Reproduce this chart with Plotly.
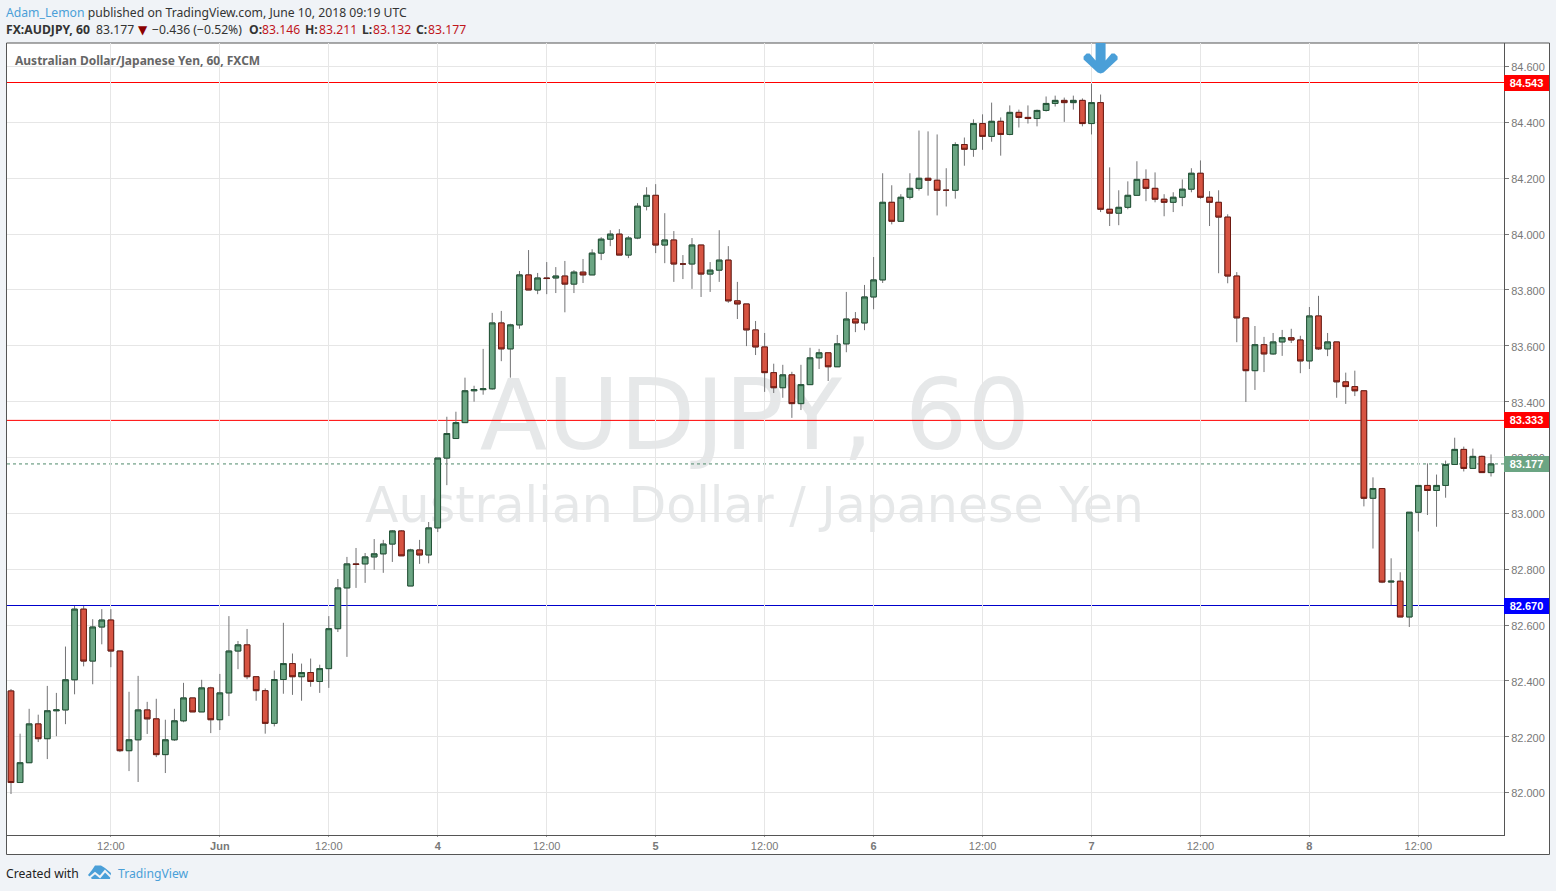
import plotly.graph_objects as go

OPEN = [82.364,82.036,82.107,82.246,82.193,82.293,82.296,82.404,82.657,82.471,82.593,82.618,82.507,82.150,82.189,82.296,82.264,82.136,82.189,82.257,
82.339,82.289,82.375,82.261,82.357,82.507,82.529,82.415,82.365,82.248,82.405,82.462,82.415,82.430,82.398,82.444,82.587,82.733,82.819,82.819,
82.844,82.855,82.890,82.937,82.740,82.869,82.851,82.948,83.198,83.268,83.325,83.439,83.443,83.446,83.682,83.589,83.675,83.854,83.800,83.843,
83.843,83.850,83.821,83.864,83.854,83.932,83.982,84.000,83.925,83.986,84.100,84.139,83.961,83.979,83.893,83.893,83.961,83.857,83.871,83.907,
83.761,83.750,83.657,83.596,83.504,83.450,83.496,83.393,83.461,83.557,83.575,83.525,83.607,83.696,83.682,83.775,83.836,84.114,84.046,84.132,
84.164,84.200,84.193,84.157,84.157,84.321,84.304,84.396,84.350,84.404,84.357,84.436,84.418,84.414,84.443,84.468,84.479,84.471,84.479,84.396,
84.471,84.089,84.075,84.096,84.139,84.196,84.164,84.125,84.114,84.132,84.161,84.218,84.132,84.114,84.061,83.850,83.700,83.511,83.604,83.571,
83.614,83.629,83.621,83.546,83.707,83.589,83.614,83.471,83.454,83.439,83.054,83.089,82.754,82.757,82.629,83.004,83.100,83.082,83.100,83.175,
83.229,83.161,83.204,83.146]
HIGH = [82.371,82.211,82.300,82.279,82.382,82.357,82.523,82.668,82.668,82.621,82.657,82.657,82.507,82.361,82.418,82.325,82.336,82.261,82.300,82.393,
82.339,82.404,82.379,82.425,82.632,82.543,82.586,82.415,82.373,82.437,82.608,82.498,82.462,82.480,82.458,82.632,82.765,82.844,82.876,82.858,
82.908,82.905,82.940,82.940,82.873,82.905,82.969,83.198,83.346,83.364,83.486,83.457,83.589,83.718,83.725,83.679,83.868,83.943,83.861,83.900,
83.882,83.904,83.871,83.911,83.946,83.989,84.014,84.018,83.993,84.111,84.168,84.179,84.075,84.011,83.925,83.986,83.961,83.900,84.014,83.957,
83.829,83.750,83.689,83.646,83.536,83.532,83.507,83.532,83.593,83.589,83.575,83.639,83.793,83.721,83.818,83.918,84.218,84.175,84.143,84.218,
84.371,84.368,84.357,84.236,84.329,84.346,84.411,84.429,84.471,84.418,84.461,84.446,84.461,84.446,84.493,84.496,84.489,84.496,84.486,84.539,
84.500,84.239,84.157,84.189,84.261,84.232,84.221,84.143,84.150,84.196,84.236,84.264,84.154,84.157,84.071,83.864,83.700,83.671,83.632,83.646,
83.657,83.661,83.636,83.739,83.779,83.646,83.614,83.504,83.511,83.439,83.129,83.089,82.839,82.789,83.004,83.100,83.179,83.139,83.189,83.271,
83.239,83.232,83.207,83.211]
LOW = [81.995,82.036,82.107,82.181,82.120,82.202,82.245,82.352,82.452,82.388,82.531,82.449,82.145,82.077,82.038,82.210,82.127,82.070,82.185,82.252,
82.289,82.289,82.213,82.224,82.274,82.442,82.406,82.329,82.211,82.237,82.354,82.350,82.329,82.379,82.357,82.375,82.575,82.486,82.733,82.751,
82.798,82.787,82.826,82.848,82.740,82.819,82.821,82.933,83.101,83.268,83.325,83.400,83.425,83.443,83.545,83.486,83.661,83.800,83.785,83.785,
83.789,83.720,83.789,83.825,83.854,83.907,83.957,83.925,83.914,83.982,84.085,83.932,83.896,83.829,83.839,83.804,83.775,83.793,83.829,83.754,
83.696,83.599,83.567,83.435,83.431,83.414,83.342,83.370,83.461,83.517,83.474,83.525,83.577,83.649,83.656,83.731,83.825,84.035,84.046,84.124,
84.156,84.138,84.067,84.099,84.127,84.245,84.277,84.302,84.331,84.281,84.354,84.382,84.396,84.386,84.439,84.457,84.402,84.446,84.386,84.357,
84.079,84.029,84.032,84.089,84.139,84.118,84.114,84.064,84.079,84.100,84.150,84.127,84.029,83.860,83.824,83.613,83.399,83.442,83.506,83.568,
83.564,83.610,83.502,83.517,83.585,83.563,83.414,83.392,83.420,83.025,82.874,82.750,82.671,82.629,82.593,82.935,82.994,82.952,83.056,83.175,
83.150,83.161,83.146,83.132]
CLOSE = [82.036,82.107,82.246,82.193,82.293,82.296,82.404,82.657,82.471,82.593,82.618,82.507,82.150,82.189,82.296,82.264,82.136,82.189,82.257,82.339,
82.289,82.375,82.261,82.357,82.507,82.529,82.415,82.365,82.248,82.405,82.462,82.415,82.430,82.398,82.444,82.587,82.733,82.819,82.817,82.844,
82.855,82.890,82.937,82.848,82.869,82.851,82.948,83.198,83.286,83.325,83.439,83.443,83.446,83.682,83.589,83.675,83.854,83.800,83.843,83.841,
83.850,83.821,83.864,83.854,83.932,83.982,84.000,83.925,83.986,84.100,84.139,83.961,83.979,83.893,83.893,83.961,83.857,83.871,83.907,83.761,
83.750,83.657,83.596,83.504,83.450,83.496,83.393,83.461,83.557,83.575,83.525,83.607,83.696,83.682,83.775,83.836,84.114,84.046,84.132,84.164,
84.200,84.193,84.157,84.157,84.321,84.304,84.396,84.350,84.404,84.357,84.436,84.418,84.414,84.443,84.468,84.479,84.471,84.479,84.396,84.471,
84.089,84.075,84.096,84.139,84.196,84.164,84.125,84.114,84.132,84.161,84.218,84.132,84.114,84.061,83.850,83.700,83.511,83.604,83.571,83.614,
83.629,83.621,83.546,83.707,83.589,83.614,83.471,83.454,83.439,83.054,83.089,82.754,82.757,82.629,83.004,83.100,83.082,83.100,83.175,83.229,
83.161,83.204,83.146,83.177]

TIME_TICK_BARS = [11, 23, 35, 47, 59, 71, 83, 95, 107, 119, 131, 143, 155]
TIME_TICK_TEXT = ["12:00", "<b>Jun</b>", "12:00", "<b>4</b>", "12:00", "<b>5</b>", "12:00", "<b>6</b>", "12:00", "<b>7</b>", "12:00", "<b>8</b>", "12:00"]
PRICE_TICKS = [82.0, 82.2, 82.4, 82.6, 82.8, 83.0, 83.2, 83.4, 83.6, 83.8, 84.0, 84.2, 84.4, 84.6]
RESISTANCE_HIGH = 84.543
RESISTANCE_LOW = 83.333
SUPPORT = 82.670
LAST = 83.177
ARROW_BAR = 120
ARROW_TIP_PRICE = 84.575

UP_FILL, UP_LINE = "#6ba583", "#225437"
DN_FILL, DN_LINE = "#d75442", "#6f1a12"
WICK = "#737375"
BG = "#f0f3f7"
BLUE = "#4a9fd8"
RED_TXT = "#c0161c"
TXT = "#333333"
LEFT, RIGHT, TOP, BOTTOM = 7, 1504, 43, 835
W, H = 1556, 891

def px(x):
    return (x - LEFT) / (RIGHT - LEFT)

def py(y):
    return (BOTTOM - y) / (BOTTOM - TOP)

bars = list(range(len(OPEN)))
fig = go.Figure()
fig.add_trace(go.Candlestick(
    x=bars, open=OPEN, high=HIGH, low=LOW, close=CLOSE,
    increasing=dict(line=dict(color=WICK, width=1), fillcolor=WICK),
    decreasing=dict(line=dict(color=WICK, width=1), fillcolor=WICK),
    hoverinfo="skip", showlegend=False))
body_high = [max(o, c) for o, c in zip(OPEN, CLOSE)]
body_low = [min(o, c) for o, c in zip(OPEN, CLOSE)]
fig.add_trace(go.Candlestick(
    x=bars, open=OPEN, high=body_high, low=body_low, close=CLOSE,
    increasing=dict(line=dict(color=UP_LINE, width=1), fillcolor=UP_FILL),
    decreasing=dict(line=dict(color=DN_LINE, width=1), fillcolor=DN_FILL),
    showlegend=False))

WATERMARK = "rgba(100,110,120,0.16)"
shapes = [
    dict(type="rect", xref="paper", yref="paper", layer="below",
         x0=px(6.5), x1=px(1549.5), y0=py(854.5), y1=py(43),
         fillcolor="white", line=dict(color="#555555", width=1)),
    dict(type="rect", xref="paper", yref="paper", layer="below",
         x0=px(255), x1=px(1255), y0=py(458), y1=py(358), fillcolor="rgba(0,0,0,0)", line=dict(width=0),
         label=dict(text="AUDJPY, 60", textposition="middle center",
                    font=dict(family="DejaVu Sans", size=98.6, color=WATERMARK))),
    dict(type="rect", xref="paper", yref="paper", layer="below",
         x0=px(200), x1=px(1309), y0=py(526.5), y1=py(476.5), fillcolor="rgba(0,0,0,0)", line=dict(width=0),
         label=dict(text="Australian Dollar / Japanese Yen", textposition="middle center",
                    font=dict(family="DejaVu Sans", size=49, color=WATERMARK))),
    dict(type="line", xref="paper", yref="y", layer="below", x0=0, x1=1, y0=LAST, y1=LAST,
         line=dict(color="#4f8a6a", width=1, dash="dot")),
    dict(type="line", xref="paper", yref="y", layer="below", x0=0, x1=1, y0=RESISTANCE_HIGH, y1=RESISTANCE_HIGH,
         line=dict(color="#ff0000", width=1)),
    dict(type="line", xref="paper", yref="y", layer="below", x0=0, x1=1, y0=RESISTANCE_LOW, y1=RESISTANCE_LOW,
         line=dict(color="#ff0000", width=1)),
    dict(type="line", xref="paper", yref="y", layer="below", x0=0, x1=1, y0=SUPPORT, y1=SUPPORT,
         line=dict(color="#0000cc", width=1)),
    dict(type="path", xref="x", yref="y", layer="above", xsizemode="pixel", ysizemode="pixel",
         xanchor=ARROW_BAR, yanchor=ARROW_TIP_PRICE,
         path="M0,0 L-3,1 L-17,14 L-17,17 L-14,20 L-11,20 L-5,13 L-5,31 L5,31 L5,13 L11,20 L14,20 L17,17 L17,14 L3,1 Z",
         fillcolor=BLUE, line=dict(width=0)),
    dict(type="path", xref="paper", yref="paper",
         path="M%f,%f L%f,%f L%f,%f L%f,%f L%f,%f L%f,%f L%f,%f L%f,%f Z" % (
             px(88), py(875), px(92), py(870), px(95), py(865.5), px(101), py(865.5),
             px(105), py(868), px(111), py(873), px(110), py(879), px(92), py(879)),
         fillcolor=BLUE, line=dict(width=0)),
    dict(type="path", xref="paper", yref="paper",
         path="M%f,%f L%f,%f L%f,%f L%f,%f L%f,%f" % (
             px(88), py(879), px(95), py(873), px(100), py(877), px(105), py(871), px(111), py(877)),
         line=dict(color=BG, width=2)),
]


def text(x, y, s, color=TXT, size=12.2, family="Noto Sans", xanchor="left"):
    return dict(xref="paper", yref="paper", x=px(x), y=py(y), text=s, showarrow=False,
                xanchor=xanchor, yanchor="middle", align="left", borderpad=0, borderwidth=0,
                font=dict(family=family, size=size, color=color))


def price_tag(value, color):
    return dict(xref="paper", yref="y", x=1, y=value, text="<b>%.3f</b>" % value, showarrow=False,
                xanchor="left", yanchor="middle", width=45, height=16, align="center", valign="middle",
                bgcolor=color, borderpad=0, borderwidth=0,
                font=dict(family="Liberation Sans", size=11, color="white"))


annotations = [
    text(6, 12, "<span style='color:%s'>Adam_Lemon</span> published on TradingView.com, June 10, 2018 09:19 UTC" % BLUE),
    text(6, 30, "<b>FX:AUDJPY, 60</b>"),
    text(96, 30, "83.177"),
    text(138, 30, "▼", color="#8b0000", size=12, family="DejaVu Sans"),
    text(152, 30, "−0.436 (−0.52%)"),
    text(249, 30, "<b>O:</b>"),
    text(262, 30, "83.146", color=RED_TXT),
    text(305, 30, "<b>H:</b>"),
    text(319, 30, "83.211", color=RED_TXT),
    text(362, 30, "<b>L:</b>"),
    text(373, 30, "83.132", color=RED_TXT),
    text(416, 30, "<b>C:</b>"),
    text(428, 30, "83.177", color=RED_TXT),
    text(15, 60, "<b>Australian Dollar/Japanese Yen, 60, FXCM</b>", color="#666666", size=12),
    text(6, 873, "Created with", color="#222222"),
    text(118, 873, "TradingView", color=BLUE),
    price_tag(RESISTANCE_HIGH, "#ff0000"),
    price_tag(RESISTANCE_LOW, "#ff0000"),
    price_tag(LAST, UP_FILL),
    price_tag(SUPPORT, "#0000ff"),
]

fig.update_layout(
    width=W, height=H, autosize=False,
    margin=dict(l=LEFT, r=W - RIGHT, t=TOP, b=H - BOTTOM, pad=0),
    paper_bgcolor=BG, plot_bgcolor="white",
    showlegend=False, boxgap=0.12, hovermode=False,
    shapes=shapes, annotations=annotations,
    font=dict(family="Liberation Sans", size=11, color="#787878"),
    xaxis=dict(range=[-0.44, 164.43], tickmode="array", tickvals=TIME_TICK_BARS, ticktext=TIME_TICK_TEXT,
               showgrid=True, gridcolor="#e6e6e6", gridwidth=1, zeroline=False,
               showline=True, linecolor="#555555", linewidth=1, ticks="outside", ticklen=1,
               tickcolor="#999999", rangeslider=dict(visible=False), tickangle=0,
               tickfont=dict(family="Liberation Sans", size=11, color="#787878")),
    yaxis=dict(side="right", range=[81.8481, 84.6845], tickmode="array", tickvals=PRICE_TICKS,
               tickformat=".3f", showgrid=True, gridcolor="#e6e6e6", gridwidth=1, zeroline=False,
               showline=True, linecolor="#555555", linewidth=1, ticks="outside", ticklen=4,
               ticklabelshift=1,
               tickcolor="#787878", tickfont=dict(family="Liberation Sans", size=11, color="#787878")),
)

fig.write_html("out.html", config={"displayModeBar": False},
               post_script="document.body.style.margin='0';document.body.style.overflow='hidden';")
